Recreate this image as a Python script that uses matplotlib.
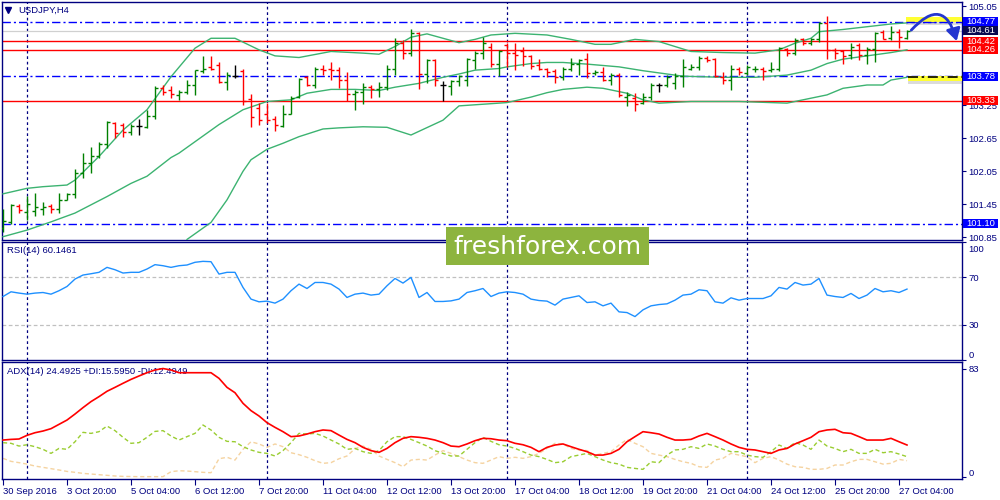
import numpy as np
import pandas as pd
import matplotlib
matplotlib.use("Agg")
import matplotlib.pyplot as plt
import matplotlib.patches as mpatches
import matplotlib.transforms as mtrans

plt.rcParams['font.family'] = ['Liberation Sans', 'DejaVu Sans']

# USDJPY H4 bars, 30 Sep 2016 12:00 .. 27 Oct 2016 08:00
opens = [101.02, 101.12, 101.41, 101.31, 101.32, 101.36, 101.41, 101.36, 101.53, 101.64,
         102.01, 102.20, 102.33, 102.55, 102.92, 102.89, 102.77, 102.87, 102.86, 103.06,
         103.56, 103.53, 103.44, 103.50, 103.62, 103.88, 103.95, 103.98, 103.68, 103.78,
         103.88, 103.36, 103.20, 103.10, 103.01, 102.87, 103.10, 103.41, 103.76, 103.62,
         103.92, 103.92, 103.89, 103.71, 103.45, 103.50, 103.58, 103.54, 103.58, 103.92,
         104.38, 104.21, 104.56, 103.82, 104.07, 103.62, 103.60, 103.70, 103.71, 104.07,
         104.21, 104.32, 104.00, 104.35, 104.20, 104.23, 104.15, 103.98, 103.92, 103.88,
         103.76, 103.92, 104.01, 104.10, 103.84, 103.86, 103.72, 103.80, 103.40, 103.38,
         103.30, 103.41, 103.62, 103.62, 103.66, 103.78, 103.92, 103.95, 104.12, 104.10,
         103.77, 103.71, 103.92, 103.84, 103.91, 103.92, 103.89, 103.92, 104.27, 104.20,
         104.45, 104.38, 104.45, 104.75, 104.26, 104.23, 104.17, 104.35, 104.17, 104.27,
         104.58, 104.47, 104.59, 104.47]
highs = [101.36, 101.46, 101.46, 101.60, 101.66, 101.50, 101.45, 101.65, 101.66, 102.09,
         102.38, 102.50, 102.59, 102.97, 102.95, 102.92, 102.91, 103.00, 103.17, 103.60,
         103.62, 103.60, 103.53, 103.72, 103.90, 104.15, 104.15, 104.03, 103.86, 103.98,
         103.91, 103.46, 103.29, 103.30, 103.06, 103.26, 103.42, 103.74, 103.78, 103.95,
         103.99, 104.04, 103.95, 103.86, 103.53, 103.65, 103.62, 103.68, 103.98, 104.47,
         104.44, 104.63, 104.58, 104.09, 104.09, 103.70, 103.71, 103.80, 104.12, 104.24,
         104.49, 104.38, 104.26, 104.38, 104.38, 104.32, 104.17, 104.10, 103.93, 103.92,
         103.95, 104.12, 104.10, 104.20, 103.89, 103.94, 103.84, 103.84, 103.50, 103.47,
         103.47, 103.65, 103.66, 103.80, 103.84, 104.10, 104.00, 104.15, 104.15, 104.12,
         103.86, 103.98, 103.95, 103.98, 103.97, 103.95, 104.03, 104.32, 104.29, 104.47,
         104.47, 104.47, 104.77, 104.87, 104.29, 104.26, 104.38, 104.38, 104.32, 104.59,
         104.62, 104.69, 104.63, 104.62]
lows = [100.95, 101.10, 101.29, 101.16, 101.23, 101.26, 101.29, 101.30, 101.53, 101.56,
        101.92, 102.01, 102.29, 102.47, 102.65, 102.68, 102.71, 102.71, 102.83, 103.01,
        103.44, 103.38, 103.35, 103.45, 103.44, 103.83, 103.90, 103.65, 103.53, 103.74,
        103.26, 102.85, 102.89, 102.92, 102.79, 102.86, 103.10, 103.39, 103.60, 103.56,
        103.80, 103.71, 103.56, 103.32, 103.17, 103.27, 103.38, 103.40, 103.53, 103.80,
        104.09, 104.15, 103.54, 103.65, 103.60, 103.32, 103.44, 103.60, 103.60, 103.92,
        104.10, 103.95, 103.78, 103.95, 103.89, 103.96, 103.92, 103.89, 103.77, 103.66,
        103.72, 103.88, 103.80, 103.74, 103.80, 103.70, 103.62, 103.41, 103.23, 103.15,
        103.28, 103.35, 103.50, 103.58, 103.54, 103.58, 103.90, 103.90, 104.03, 103.76,
        103.64, 103.52, 103.80, 103.80, 103.86, 103.71, 103.86, 103.88, 104.15, 104.17,
        104.35, 104.35, 104.41, 104.10, 104.10, 104.01, 104.10, 104.07, 104.01, 104.04,
        104.45, 104.44, 104.29, 104.45]
closes = [101.14, 101.44, 101.34, 101.45, 101.40, 101.40, 101.36, 101.53, 101.64, 102.01,
          102.20, 102.33, 102.55, 102.94, 102.75, 102.77, 102.87, 102.87, 103.06, 103.56,
          103.50, 103.46, 103.50, 103.62, 103.89, 103.92, 103.92, 103.68, 103.80, 103.78,
          103.32, 103.04, 102.98, 102.98, 102.89, 103.10, 103.38, 103.73, 103.62, 103.92,
          103.90, 103.89, 103.71, 103.45, 103.50, 103.59, 103.54, 103.58, 103.92, 104.38,
          104.21, 104.56, 103.82, 104.07, 103.72, 103.62, 103.70, 103.78, 104.09, 104.21,
          104.38, 104.01, 104.23, 104.21, 104.17, 104.15, 103.96, 103.92, 103.86, 103.76,
          103.92, 104.01, 104.07, 103.84, 103.86, 103.72, 103.80, 103.44, 103.43, 103.28,
          103.41, 103.62, 103.62, 103.77, 103.78, 103.94, 103.95, 104.12, 104.07, 103.78,
          103.71, 103.92, 103.86, 103.94, 103.92, 103.88, 103.92, 104.29, 104.20, 104.44,
          104.39, 104.45, 104.75, 104.26, 104.21, 104.15, 104.32, 104.17, 104.27, 104.57,
          104.45, 104.59, 104.50, 104.61]

# Bollinger bands, read at selected bars
bb_up_idx = [0, 3, 5, 8, 9, 12, 15, 18, 21, 24, 26, 29, 32, 34, 37, 41, 45, 47, 49, 51, 53, 55,
             57, 59, 61, 64, 68, 71, 74, 76, 79, 82, 84, 86, 90, 94, 97, 99, 101, 102, 105, 108,
             111, 113]
bb_up = [101.64, 101.74, 101.77, 101.80, 101.89, 102.32, 102.80, 103.17, 103.77, 104.29, 104.47,
         104.47, 104.26, 104.15, 104.12, 104.23, 104.20, 104.18, 104.32, 104.49, 104.55, 104.47,
         104.39, 104.45, 104.53, 104.56, 104.53, 104.45, 104.36, 104.36, 104.45, 104.41, 104.32,
         104.23, 104.21, 104.20, 104.26, 104.38, 104.47, 104.59, 104.63, 104.68, 104.73, 104.75]
bb_mid_idx = [0, 3, 6, 9, 13, 16, 18, 21, 22, 27, 30, 33, 36, 38, 41, 44, 47, 49, 52, 55, 57, 59,
              62, 63, 66, 68, 70, 73, 77, 80, 82, 85, 90, 94, 98, 101, 103, 105, 108, 111, 113]
bb_mid = [100.86, 100.98, 101.13, 101.29, 101.59, 101.83, 101.96, 102.30, 102.38, 102.90, 103.17,
          103.32, 103.35, 103.47, 103.54, 103.54, 103.52, 103.58, 103.65, 103.76, 103.82, 103.89,
          103.92, 103.95, 104.01, 104.03, 104.03, 104.00, 103.95, 103.88, 103.84, 103.78, 103.76,
          103.76, 103.80, 103.89, 104.01, 104.09, 104.15, 104.21, 104.26]
bb_low_idx = [23, 26, 28, 30, 31, 33, 35, 37, 40, 42, 45, 48, 51, 55, 57, 60, 63, 66, 68, 70, 73,
              75, 78, 80, 82, 86, 92, 98, 100, 103, 105, 108, 110, 111, 113]
bb_low = [100.81, 101.12, 101.53, 102.05, 102.26, 102.45, 102.56, 102.68, 102.82, 102.84, 102.86,
          102.85, 102.71, 102.98, 103.24, 103.27, 103.30, 103.40, 103.48, 103.54, 103.58, 103.56,
          103.47, 103.35, 103.29, 103.32, 103.32, 103.29, 103.35, 103.44, 103.56, 103.62, 103.62,
          103.71, 103.76]

rsi = [53.8, 57.8, 56.7, 55.8, 56.7, 57.2, 55.8, 58.7, 62.3, 68.6, 72.0, 73.1, 74.3, 78.5, 76.5,
       73.7, 74.3, 74.3, 77.1, 80.8, 79.9, 78.5, 79.9, 80.5, 82.8, 83.6, 83.3, 72.8, 74.3, 74.3,
       61.5, 51.6, 49.3, 49.9, 48.2, 51.6, 58.7, 64.3, 60.6, 65.7, 65.7, 64.3, 60.1, 53.0, 55.8,
       56.7, 55.0, 55.8, 62.9, 69.1, 65.2, 70.0, 53.0, 57.2, 49.6, 49.6, 50.1, 51.6, 57.2, 58.7,
       60.6, 53.8, 56.7, 57.8, 57.2, 55.8, 51.6, 50.4, 49.9, 46.5, 51.6, 53.0, 54.4, 48.7, 49.3,
       45.9, 48.2, 40.8, 40.2, 36.8, 42.5, 45.9, 47.0, 47.6, 50.7, 55.0, 55.8, 59.5, 58.7, 49.3,
       48.2, 52.7, 50.7, 52.1, 52.1, 52.1, 54.4, 61.5, 60.1, 65.7, 63.5, 64.3, 69.1, 55.0, 53.8,
       53.0, 56.4, 52.1, 55.0, 60.6, 57.8, 58.7, 57.2, 60.1]

adx = [28.3, 28.8, 29.1, 31.9, 33.9, 35.2, 37.0, 40.3, 43.6, 48.2, 53.1, 57.7, 61.5, 65.6, 68.6,
       71.7, 74.7, 77.3, 79.8, 81.9, 83.0, 81.9, 79.8, 79.8, 79.8, 79.8, 79.8, 75.5, 68.6, 64.5,
       56.4, 50.8, 46.7, 41.6, 38.0, 34.7, 30.9, 31.4, 32.9, 34.7, 36.0, 35.5, 32.1, 28.8, 26.3,
       22.7, 20.2, 18.9, 21.9, 26.3, 29.6, 30.9, 30.4, 29.6, 28.3, 26.3, 23.7, 23.2, 25.3, 27.8,
       29.6, 29.3, 28.3, 27.8, 25.8, 24.7, 22.7, 19.4, 22.7, 24.5, 25.3, 23.2, 21.2, 19.4, 16.8,
       16.8, 18.1, 21.2, 27.0, 30.9, 34.7, 33.9, 32.9, 30.4, 28.3, 28.3, 28.8, 31.4, 33.4, 30.9,
       28.3, 25.3, 22.7, 21.2, 20.7, 19.4, 18.1, 20.7, 21.9, 25.3, 27.8, 30.4, 34.7, 36.0, 36.5,
       33.9, 33.4, 30.9, 28.3, 28.3, 28.3, 29.6, 27.0, 24.5]
plus_di = [26.3, 25.8, 23.7, 24.7, 23.2, 21.2, 18.1, 21.9, 21.2, 27.0, 34.2, 33.4, 34.7, 39.0, 35.5,
           30.4, 25.8, 26.3, 30.4, 34.9, 35.5, 31.4, 28.3, 30.9, 33.4, 39.8, 36.0, 30.4, 27.3, 27.0,
           23.2, 20.7, 18.9, 18.1, 16.1, 20.2, 26.3, 33.4, 32.9, 33.4, 31.4, 28.3, 25.3, 21.2, 21.9,
           19.4, 18.1, 20.2, 27.0, 30.9, 30.9, 28.8, 26.3, 23.7, 20.2, 18.1, 16.1, 16.1, 21.2, 26.3,
           30.4, 27.3, 24.7, 23.7, 21.9, 19.4, 16.8, 15.6, 13.5, 11.0, 11.7, 15.6, 16.8, 18.1, 15.6,
           13.0, 11.0, 9.9, 7.4, 6.6, 5.9, 11.7, 11.0, 16.8, 20.7, 21.2, 23.2, 21.9, 25.3, 23.7,
           21.2, 19.4, 19.4, 16.8, 15.6, 15.1, 19.4, 24.5, 21.9, 26.3, 24.5, 21.2, 28.3, 23.7, 21.9,
           19.4, 21.2, 18.1, 18.1, 21.2, 18.6, 19.4, 17.6, 15.6]
minus_di = [14.3, 12.0, 11.0, 9.9, 8.4, 7.4, 6.4, 5.4, 4.3, 3.6, 2.8, 2.3, 1.8, 1.3, 0.8, 0.5, 0.4,
            0.3, 0.3, 0.3, 0.3, 4.1, 4.8, 4.6, 4.1, 3.6, 3.3, 14.0, 15.1, 13.0, 21.2, 27.0, 25.3,
            22.7, 25.3, 23.2, 18.6, 17.1, 15.1, 12.5, 10.5, 11.0, 14.0, 16.1, 21.7, 23.7, 21.2,
            16.1, 13.5, 11.0, 7.9, 13.0, 13.5, 13.0, 16.8, 20.2, 18.1, 15.6, 13.0, 11.0, 10.5,
            13.0, 15.6, 14.3, 15.1, 14.3, 15.6, 18.1, 21.9, 25.8, 25.3, 21.9, 20.7, 20.2, 16.8,
            18.1, 19.4, 24.5, 28.8, 25.8, 23.2, 18.1, 16.8, 15.6, 13.5, 11.7, 10.5, 7.9, 7.4, 13.0,
            14.3, 18.1, 16.8, 15.6, 11.0, 14.3, 15.6, 13.0, 9.9, 7.9, 7.4, 5.9, 5.9, 6.6, 9.2, 9.2,
            11.7, 13.5, 13.5, 11.7, 9.9, 10.5, 13.5, 12.5]

blue_levels = [104.77, 103.78, 101.10]
red_levels = [104.42, 104.26, 103.33]
bid = 104.61
price_ticks = [100.85, 101.45, 102.05, 102.65, 103.25, 103.85, 104.45, 105.05]
hidden_ticks = [103.85, 104.45]  # covered by the level boxes on the reference

NAVY = '#000080'
GREEN = '#008000'
RED = '#FF0000'
BAND = '#3CB371'

times = pd.date_range('2016-09-30 12:00', '2016-10-27 08:00', freq='4h')
times = times[times.dayofweek < 5]
x = np.arange(len(closes))
o, h, l, c = map(np.array, (opens, highs, lows, closes))
colors = np.where(c > o, GREEN, np.where(c < o, RED, 'black'))

fig = plt.figure(figsize=(10, 5), dpi=100)
ax = fig.add_axes([0.002, 0.52, 0.96, 0.476])
ax_rsi = fig.add_axes([0.002, 0.28, 0.96, 0.236])
ax_adx = fig.add_axes([0.002, 0.042, 0.96, 0.234])
xlim = (-0.125, 119.875)

for a in (ax, ax_rsi, ax_adx):
    a.set_xlim(*xlim)
    for s in a.spines.values():
        s.set_color(NAVY)
        s.set_linewidth(1)
    a.yaxis.tick_right()
    a.tick_params(axis='y', colors=NAVY, labelsize=6.8, length=3, width=0.8, pad=1.5)
    a.tick_params(axis='x', bottom=False, labelbottom=False)
    # weekly separators
    for i, t in enumerate(times):
        if t.dayofweek == 0 and t.hour == 0:
            a.axvline(i, color=NAVY, lw=0.9, ls=(0, (2.2, 2.2)), zorder=1)

# ---- main price panel
ax.set_ylim(100.80, 105.13)
ax.set_yticks(price_ticks)
ax.set_yticklabels(['' if v in hidden_ticks else f'{v:.2f}' for v in price_ticks])
ax.axhline(bid, color='#D0D0D0', lw=0.9, zorder=1)
for v in blue_levels:
    ax.axhline(v, color='#0000FF', lw=1, ls=(0, (6, 2.2, 1.5, 2.2)), zorder=2)
for v in red_levels:
    ax.axhline(v, color=RED, lw=1, zorder=2)

ax.plot(bb_up_idx, bb_up, color=BAND, lw=1, zorder=3)
ax.plot(bb_mid_idx, bb_mid, color=BAND, lw=1, zorder=3)
ax.plot(bb_low_idx, bb_low, color=BAND, lw=1, zorder=3)

ax.vlines(x, l, h, colors=colors, lw=1.0, zorder=4)
ax.hlines(o, x - 0.4, x, colors=colors, lw=1.0, zorder=4)
ax.hlines(c, x, x + 0.4, colors=colors, lw=1.0, zorder=4)

# yellow highlights and arrow on the right
ax.add_patch(mpatches.Rectangle((112.9, 104.72), xlim[1] - 112.9, 0.04, color='#999999',
                                alpha=0.35, lw=0, zorder=5))
ax.add_patch(mpatches.Rectangle((112.9, 104.76), xlim[1] - 112.9, 0.10, color='#FFFF33',
                                lw=0, zorder=5))
ax.add_patch(mpatches.Rectangle((113.1, 103.64), xlim[1] - 113.1, 0.05, color='#999999',
                                alpha=0.35, lw=0, zorder=5))
ax.add_patch(mpatches.Rectangle((113.1, 103.69), xlim[1] - 113.1, 0.10, color='#FFFF33',
                                lw=0, zorder=5))
ax.hlines(104.77, 112.9, xlim[1], color='#0000FF', lw=1, ls=(0, (6, 2.2, 1.5, 2.2)), zorder=6)
ax.hlines(103.765, 113.1, xlim[1], color='black', lw=1.2, ls=(0, (6, 2.2, 1.5, 2.2)), zorder=6)
ax.add_patch(mpatches.FancyArrowPatch((113.3, 104.58), (119.3, 104.37),
                                      connectionstyle='arc3,rad=-0.95',
                                      arrowstyle='-|>,head_length=0.6,head_width=0.35',
                                      mutation_scale=12, color='#2436D0', lw=2,
                                      zorder=7, clip_on=False))

# price boxes on the right axis
blend = mtrans.blended_transform_factory(ax.transAxes, ax.transData)
boxes = [(v, '#0000FF') for v in blue_levels] + [(v, RED) for v in red_levels] + [(bid, '#0A0A50')]
for v, col in boxes:
    ax.add_patch(mpatches.Rectangle((1.001, v - 0.082), 0.037, 0.164, transform=blend,
                                    facecolor=col, lw=0, clip_on=False, zorder=8))
    ax.text(1.004, v, f'{v:.2f}', transform=blend, color='white', fontsize=6.8,
            ha='left', va='center', zorder=9, clip_on=False)

ax.plot([0.0065], [0.967], marker='v', ms=4, color=NAVY, transform=ax.transAxes, clip_on=False)
ax.text(0.017, 0.966, 'USDJPY,H4', transform=ax.transAxes, color=NAVY, fontsize=6.8,
        ha='left', va='center')

# ---- RSI panel
ax_rsi.set_ylim(0, 100)
ax_rsi.set_yticks([0, 30, 70, 100])
ax_rsi.set_yticklabels(['0', '30', '70', '100'])
for v in (30, 70):
    ax_rsi.axhline(v, color='#C0C0C0', lw=0.9, ls=(0, (3, 2)), zorder=1)
ax_rsi.plot(x, rsi, color='#1E90FF', lw=1, zorder=3)
ax_rsi.text(0.005, 0.924, 'RSI(14) 60.1461',
            transform=ax_rsi.transAxes, color=NAVY, fontsize=6.8, ha='left', va='center')
lbls = ax_rsi.get_yticklabels()
lbls[0].set_transform(lbls[0].get_transform() + mtrans.ScaledTranslation(0, 6 / 100, fig.dpi_scale_trans))
lbls[3].set_transform(lbls[3].get_transform() + mtrans.ScaledTranslation(0, -6 / 100, fig.dpi_scale_trans))

# ---- ADX panel
ax_adx.set_ylim(-1.5, 88.0)
ax_adx.set_yticks([0, 83])
ax_adx.set_yticklabels(['0', '83'])
ax_adx.plot(x, minus_di, color='#F5D3A0', lw=1, ls=(0, (3, 2)), zorder=2)
ax_adx.plot(x, plus_di, color='#9ACD32', lw=1, ls=(0, (3, 2)), zorder=3)
ax_adx.plot(x, adx, color=RED, lw=1.2, zorder=4)
ax_adx.text(0.005, 0.923, 'ADX(14) 24.4925 +DI:15.5950 -DI:12.4949',
            transform=ax_adx.transAxes, color=NAVY, fontsize=6.8, ha='left', va='center')
lb = ax_adx.get_yticklabels()
lb[0].set_transform(lb[0].get_transform() + mtrans.ScaledTranslation(0, 5 / 100, fig.dpi_scale_trans))

tick_idx = list(range(0, len(times), 8))
tick_lbl = []
for i in tick_idx:
    t = times[i]
    tick_lbl.append(f'{t.day} {t:%b %Y}' if i == 0 else f'{t.day} {t:%b %H:%M}')
ax_adx.tick_params(axis='x', bottom=True, labelbottom=True, colors=NAVY, labelsize=6.8,
                   length=4, width=0.8, pad=1.5)
ax_adx.set_xticks(tick_idx)
ax_adx.set_xticklabels(tick_lbl, ha='left')

# watermark
fig.add_artist(mpatches.Rectangle((0.446, 0.470), 0.203, 0.076, transform=fig.transFigure,
                                  facecolor='#8DB43E', lw=0, zorder=10))
fig.text(0.5475, 0.507, 'freshforex.com', color='white', fontsize=18, ha='center',
         va='center', zorder=11, family=['DejaVu Sans'])

fig.savefig('out.png', dpi=100)
